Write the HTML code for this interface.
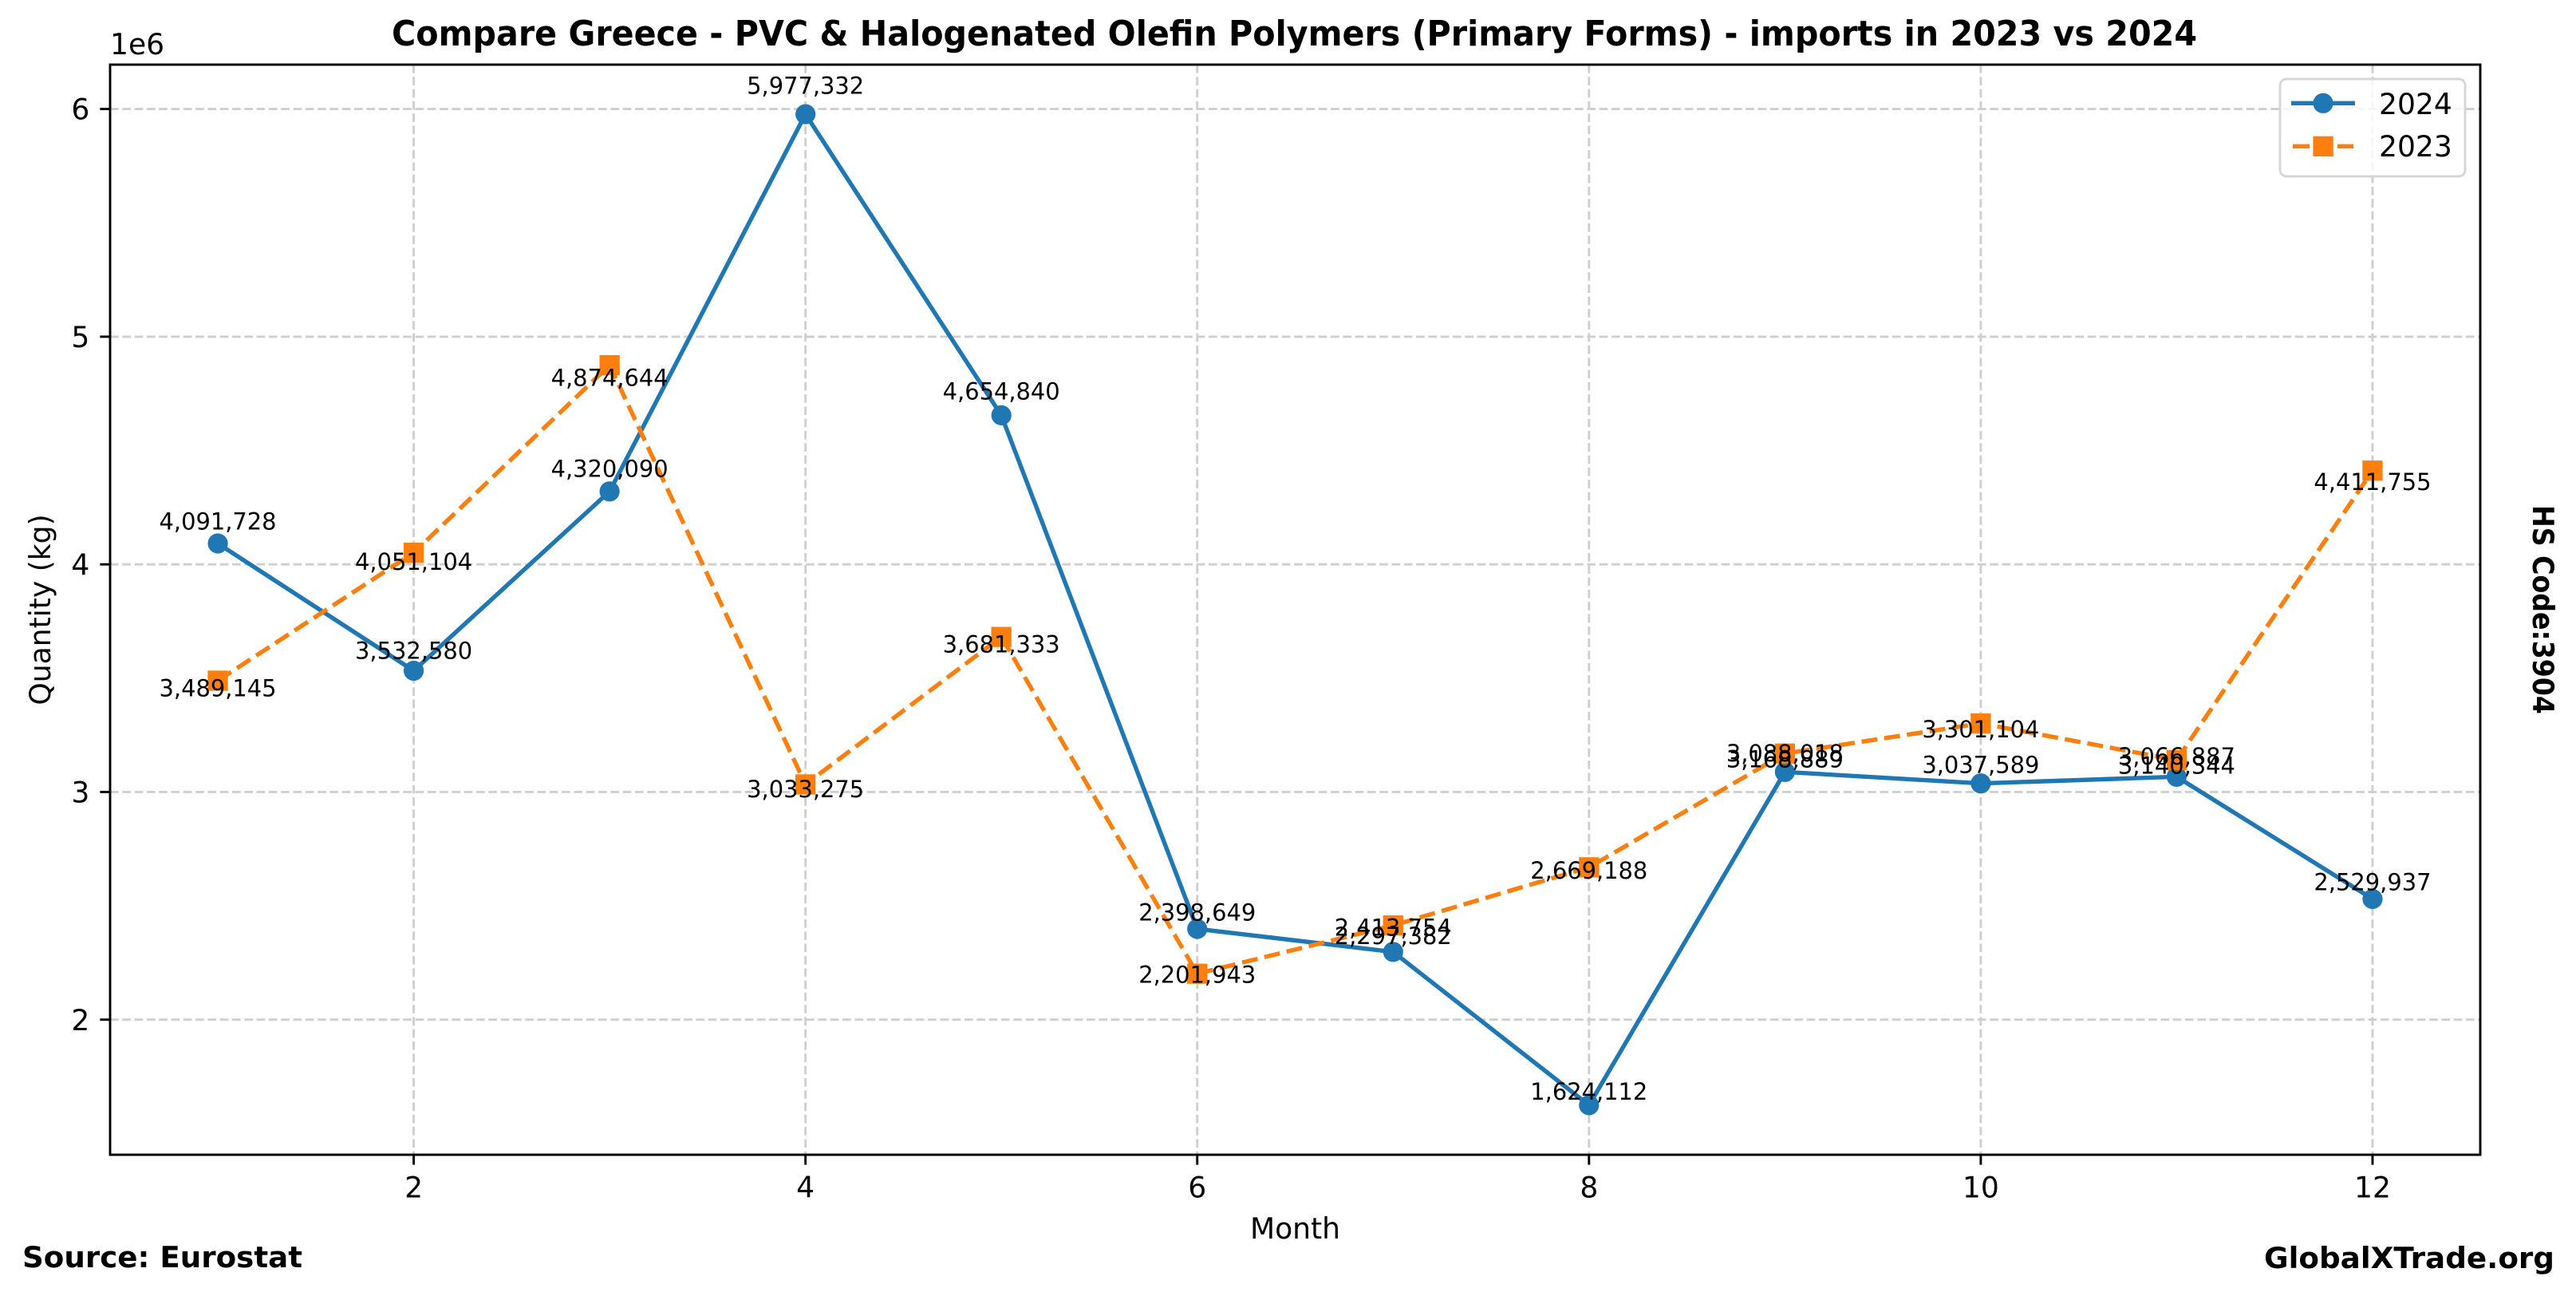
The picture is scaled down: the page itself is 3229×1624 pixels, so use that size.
<!DOCTYPE html>
<html>
<head>
<meta charset="utf-8">
<style>
  html, body { margin: 0; padding: 0; background: #ffffff; }
  body { width: 3229px; height: 1624px; overflow: hidden; }
  svg { display: block; }
  text { font-family: "DejaVu Sans", "Liberation Sans", sans-serif; fill: #000; }
  .tick { font-size: 36.1px; }
  .ann { font-size: 28.9px; }
  .bold { font-weight: bold; }
</style>
</head>
<body>
<svg width="3229" height="1624" viewBox="0 0 3229 1624" xmlns="http://www.w3.org/2000/svg">
  <rect x="0" y="0" width="3229" height="1624" fill="#ffffff"/>

  <!-- Grid -->
  <g stroke="#cfcfcf" stroke-width="2.9" stroke-dasharray="10.7,4.6" fill="none">
    <line x1="518.58" y1="81" x2="518.58" y2="1447"/>
    <line x1="1009.66" y1="81" x2="1009.66" y2="1447"/>
    <line x1="1500.73" y1="81" x2="1500.73" y2="1447"/>
    <line x1="1991.80" y1="81" x2="1991.80" y2="1447"/>
    <line x1="2482.88" y1="81" x2="2482.88" y2="1447"/>
    <line x1="2973.95" y1="81" x2="2973.95" y2="1447"/>
    <line x1="138" y1="1277.7" x2="3109" y2="1277.7"/>
    <line x1="138" y1="992.4" x2="3109" y2="992.4"/>
    <line x1="138" y1="707.2" x2="3109" y2="707.2"/>
    <line x1="138" y1="421.9" x2="3109" y2="421.9"/>
    <line x1="138" y1="136.6" x2="3109" y2="136.6"/>
  </g>

  <!-- 2024 series -->
  <polyline fill="none" stroke="#1f77b4" stroke-width="5.4" stroke-linejoin="round"
    points="273.05,681.0 518.58,840.5 764.12,615.8 1009.66,143.1 1255.19,520.4 1500.73,1164.0 1746.27,1192.8 1991.80,1384.9 2237.34,967.3 2482.88,981.7 2728.41,973.3 2973.95,1126.5"/>
  <g fill="#1f77b4">
    <circle cx="273.05" cy="681.0" r="12.6"/>
    <circle cx="518.58" cy="840.5" r="12.6"/>
    <circle cx="764.12" cy="615.8" r="12.6"/>
    <circle cx="1009.66" cy="143.1" r="12.6"/>
    <circle cx="1255.19" cy="520.4" r="12.6"/>
    <circle cx="1500.73" cy="1164.0" r="12.6"/>
    <circle cx="1746.27" cy="1192.8" r="12.6"/>
    <circle cx="1991.80" cy="1384.9" r="12.6"/>
    <circle cx="2237.34" cy="967.3" r="12.6"/>
    <circle cx="2482.88" cy="981.7" r="12.6"/>
    <circle cx="2728.41" cy="973.3" r="12.6"/>
    <circle cx="2973.95" cy="1126.5" r="12.6"/>
  </g>

  <!-- 2023 series -->
  <polyline fill="none" stroke="#ff7f0e" stroke-width="5.4" stroke-linejoin="round" stroke-dasharray="20,8.7"
    points="273.05,852.9 518.58,692.6 764.12,457.6 1009.66,982.9 1255.19,798.1 1500.73,1220.1 1746.27,1159.6 1991.80,1086.8 2237.34,944.2 2482.88,906.5 2728.41,952.4 2973.95,589.7"/>
  <g fill="#ff7f0e">
    <rect x="260.4" y="840.3" width="25.3" height="25.3"/>
    <rect x="505.9" y="680.0" width="25.3" height="25.3"/>
    <rect x="751.5" y="445.0" width="25.3" height="25.3"/>
    <rect x="997.0" y="970.3" width="25.3" height="25.3"/>
    <rect x="1242.5" y="785.5" width="25.3" height="25.3"/>
    <rect x="1488.1" y="1207.5" width="25.3" height="25.3"/>
    <rect x="1733.6" y="1147.0" width="25.3" height="25.3"/>
    <rect x="1979.2" y="1074.2" width="25.3" height="25.3"/>
    <rect x="2224.7" y="931.6" width="25.3" height="25.3"/>
    <rect x="2470.2" y="893.9" width="25.3" height="25.3"/>
    <rect x="2715.8" y="939.8" width="25.3" height="25.3"/>
    <rect x="2961.3" y="577.1" width="25.3" height="25.3"/>
  </g>

  <!-- Annotations 2024 -->
  <g class="ann" text-anchor="middle">
    <text x="273.05" y="663.5">4,091,728</text>
    <text x="518.58" y="825.4">3,532,580</text>
    <text x="764.12" y="597.3">4,320,090</text>
    <text x="1009.66" y="117.5">5,977,332</text>
    <text x="1255.19" y="500.5">4,654,840</text>
    <text x="1500.73" y="1153.7">2,398,649</text>
    <text x="1746.27" y="1183.0">2,297,382</text>
    <text x="1991.80" y="1378.0">1,624,112</text>
    <text x="2237.34" y="954.1">3,088,018</text>
    <text x="2482.88" y="968.7">3,037,589</text>
    <text x="2728.41" y="958.2">3,066,887</text>
    <text x="2973.95" y="1115.7">2,529,937</text>
  </g>
  <!-- Annotations 2023 -->
  <g class="ann" text-anchor="middle">
    <text x="273.05" y="872.3">3,489,145</text>
    <text x="518.58" y="714.0">4,051,104</text>
    <text x="764.12" y="483.3">4,874,644</text>
    <text x="1009.66" y="998.9">3,033,275</text>
    <text x="1255.19" y="817.5">3,681,333</text>
    <text x="1500.73" y="1231.7">2,201,943</text>
    <text x="1746.27" y="1172.3">2,413,754</text>
    <text x="1991.80" y="1100.9">2,669,188</text>
    <text x="2237.34" y="961.5">3,168,889</text>
    <text x="2482.88" y="923.9">3,301,104</text>
    <text x="2728.41" y="969.5">3,140,344</text>
    <text x="2973.95" y="614.0">4,411,755</text>
  </g>

  <!-- Legend -->
  <rect x="2858" y="99" width="232" height="122" rx="8" ry="8" fill="#ffffff" fill-opacity="0.8" stroke="#d6d6d6" stroke-width="2.9"/>
  <line x1="2872" y1="129.3" x2="2952" y2="129.3" stroke="#1f77b4" stroke-width="5.4"/>
  <circle cx="2912" cy="129.3" r="12.6" fill="#1f77b4"/>
  <line x1="2874" y1="183.3" x2="2895" y2="183.3" stroke="#ff7f0e" stroke-width="5.4"/>
  <line x1="2930" y1="183.3" x2="2950" y2="183.3" stroke="#ff7f0e" stroke-width="5.4"/>
  <rect x="2899.4" y="170.7" width="25.3" height="25.3" fill="#ff7f0e"/>
  <text class="tick" x="2982" y="143">2024</text>
  <text class="tick" x="2982" y="196">2023</text>

  <!-- Spines -->
  <rect x="138" y="81" width="2971" height="1366" fill="none" stroke="#000" stroke-width="2.9"/>

  <!-- Ticks -->
  <g stroke="#000" stroke-width="2.9">
    <line x1="518.58" y1="1447" x2="518.58" y2="1459.6"/>
    <line x1="1009.66" y1="1447" x2="1009.66" y2="1459.6"/>
    <line x1="1500.73" y1="1447" x2="1500.73" y2="1459.6"/>
    <line x1="1991.80" y1="1447" x2="1991.80" y2="1459.6"/>
    <line x1="2482.88" y1="1447" x2="2482.88" y2="1459.6"/>
    <line x1="2973.95" y1="1447" x2="2973.95" y2="1459.6"/>
    <line x1="125.4" y1="1277.7" x2="138" y2="1277.7"/>
    <line x1="125.4" y1="992.4" x2="138" y2="992.4"/>
    <line x1="125.4" y1="707.2" x2="138" y2="707.2"/>
    <line x1="125.4" y1="421.9" x2="138" y2="421.9"/>
    <line x1="125.4" y1="136.6" x2="138" y2="136.6"/>
  </g>

  <!-- X tick labels -->
  <g class="tick" text-anchor="middle">
    <text x="518.58" y="1500.7">2</text>
    <text x="1009.66" y="1500.7">4</text>
    <text x="1500.73" y="1500.7">6</text>
    <text x="1991.80" y="1500.7">8</text>
    <text x="2482.88" y="1500.7">10</text>
    <text x="2973.95" y="1500.7">12</text>
  </g>
  <!-- Y tick labels -->
  <g class="tick" text-anchor="end">
    <text x="112.4" y="1290.8">2</text>
    <text x="112.4" y="1005.5">3</text>
    <text x="112.4" y="720.3">4</text>
    <text x="112.4" y="435.0">5</text>
    <text x="112.4" y="149.7">6</text>
  </g>
  <text class="tick" x="138" y="68">1e6</text>

  <!-- Axis labels -->
  <text class="tick" x="1623.5" y="1552" text-anchor="middle">Month</text>
  <text class="tick" x="0" y="0" text-anchor="middle" transform="translate(63,764) rotate(-90)">Quantity (kg)</text>

  <!-- Title -->
  <text class="bold" x="1622.5" y="57" text-anchor="middle" font-size="43.3" textLength="2263" lengthAdjust="spacingAndGlyphs">Compare Greece - PVC &amp; Halogenated Olefin Polymers (Primary Forms) - imports in 2023 vs 2024</text>

  <!-- Side label -->
  <text class="bold" x="0" y="0" text-anchor="middle" font-size="36.1" textLength="262" lengthAdjust="spacingAndGlyphs" transform="translate(3175,764) rotate(90)">HS Code:3904</text>

  <!-- Footer -->
  <text class="bold" x="28" y="1588" font-size="36.1" textLength="351" lengthAdjust="spacingAndGlyphs">Source: Eurostat</text>
  <text class="bold" x="2838" y="1589" font-size="36.1" textLength="364" lengthAdjust="spacingAndGlyphs">GlobalXTrade.org</text>
</svg>
</body>
</html>
